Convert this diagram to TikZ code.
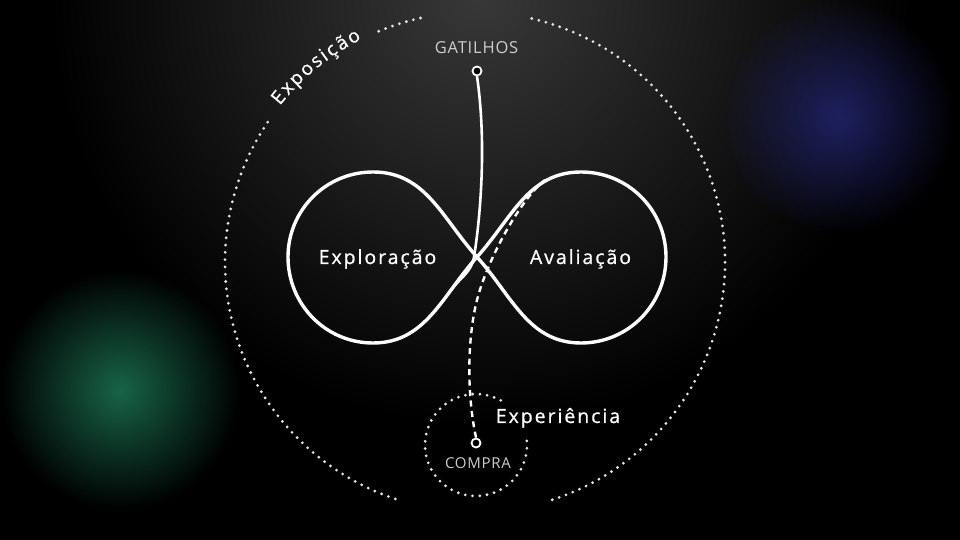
\documentclass[tikz,border=0pt]{standalone}
\usepackage{fontspec}
\setmainfont{Open Sans}
\newfontfamily\wideface[LetterSpace=10, FakeBold=0.8]{Open Sans}
\newfontfamily\tagface[LetterSpace=5]{Open Sans}
\newfontfamily\plainface[FakeBold=0.8]{Open Sans}
\usepackage{xcolor}
\usetikzlibrary{calc, fadings}

\tikzfading[name=glowfade, inner color=transparent!0, outer color=transparent!100]

\definecolor{glowgray}{RGB}{56,56,56}
\definecolor{glowblue}{RGB}{30,32,96}
\definecolor{glowgreen}{RGB}{24,100,72}
\definecolor{dotgray}{RGB}{228,228,228}
\definecolor{taggray}{RGB}{205,205,205}

\begin{document}
\begin{tikzpicture}[
    x=1pt, y=1pt,
    loopline/.style={draw=white, line width=3.4pt, line cap=round},
    trigline/.style={draw=white, line width=2.6pt, line cap=round},
    dotline/.style={draw=dotgray, line width=3.1pt, line cap=round, dash pattern=on 0pt off 7.3pt},
    buyline/.style={draw=white, line width=2.4pt, dash pattern=on 6pt off 4.5pt},
    endpoint/.style={circle, draw=white, fill=black, line width=1.8pt, inner sep=0pt, minimum size=9pt},
    stage/.style={text=white, anchor=base, font=\wideface\fontsize{19.5}{22}\selectfont},
    arcletter/.style={text=white, anchor=base, inner sep=0pt, font=\plainface\fontsize{19}{22}\selectfont},
    tag/.style={text=taggray, anchor=base, font=\tagface\fontsize{15}{18}\selectfont}
]

% 1. Background and glows
\useasboundingbox (0,0) rectangle (960,540);
\fill[black] (0,0) rectangle (960,540);
\begin{scope}
  \clip (0,0) rectangle (960,540);
  \shade[inner color=glowgray, outer color=black] (480,545) circle (430);
  \fill[glowblue, path fading=glowfade] (838,423) circle (118);
  \fill[glowgreen, path fading=glowfade] (120,150) circle (120);
\end{scope}

% 2. Anchors
\coordinate (orb) at (475,278);
\coordinate (knot) at (477,283);
\coordinate (lt) at (373,368);
\coordinate (lw) at (288,283);
\coordinate (lb) at (373,197);
\coordinate (rt) at (581,368);
\coordinate (re) at (666,283);
\coordinate (rb) at (581,197);
\coordinate (ring) at (476,95);
\coordinate (pass) at (474,283);
\coordinate (mrg) at (450.7,249.5);
\coordinate (bend) at (477,240);
\coordinate (fade) at (545,360);

% 3. Dotted circles
\draw[dotline] ([shift={(102.6:250)}]orb) arc[start angle=102.6, end angle=114, radius=250];
\draw[dotline] ([shift={(146:250)}]orb) arc[start angle=146, end angle=253, radius=250];
\draw[dotline] ([shift={(288:250)}]orb) arc[start angle=288, end angle=437, radius=250];
\draw[dotline] ([shift={(61:51)}]ring) arc[start angle=61, end angle=371, radius=51];

% 4. End points
\node[endpoint] (gat) at (477,469) {};
\node[endpoint] (cmp) at (476,97) {};

% 5. Paths
\draw[buyline] (cmp.north) .. controls (466,150) and (468,205) .. (bend)
  .. controls (487.8,282) and (521.3,341.7) .. (fade);
\draw[loopline] (knot) to[out=48,in=180] (rt) to[out=0,in=90] (re)
  to[out=-90,in=0] (rb) to[out=180,in=-48] (knot)
  to[out=132,in=0] (lt) to[out=180,in=90] (lw)
  to[out=-90,in=180] (lb) to[out=0,in=-132] (knot);
\draw[trigline] (gat.south) .. controls (487,395) and (480,320) .. (pass)
  to[out=-100,in=54] (mrg);

% 6. Labels
\node[tag, font=\tagface\fontsize{16.5}{18}\selectfont] (gatlbl) at (476.5,486) {GATILHOS};
\node[tag] (cmplbl) at (478,71) {COMPRA};
\node[stage] (explo) at (377.5,276) {Exploração};
\node[stage] (aval) at (580.5,276) {Avaliação};
\node[stage] (expe) at (558,117) {Experiência};
\foreach \ch/\ang [count=\k] in {E/140.1, x/137.2, p/134.25, o/131.1, s/128.26, i/126.2, ç/124.1, ã/121.3, o/118.3}
  \node[arcletter, rotate=\ang-90] (expo\k) at ([shift={(\ang:250)}]orb) {\ch};

\end{tikzpicture}
\end{document}
